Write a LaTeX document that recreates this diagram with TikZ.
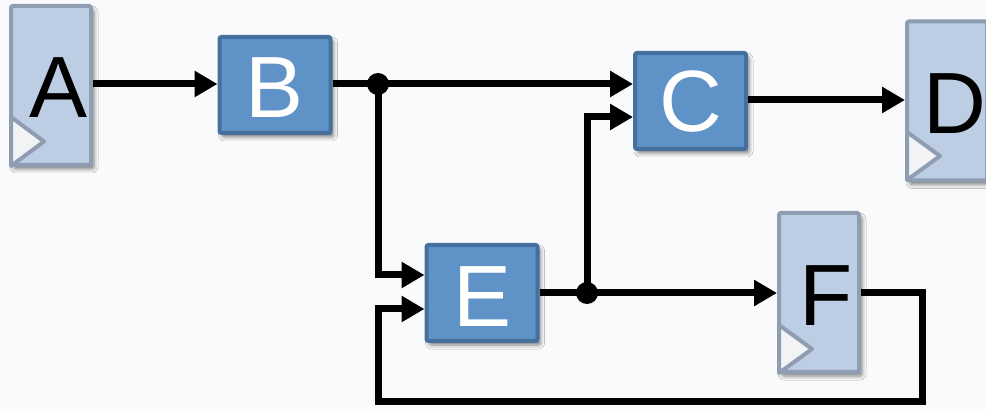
\documentclass[tikz,border=0pt]{standalone}
\usepackage{fontspec}
\setmainfont{Liberation Sans}
\usetikzlibrary{arrows.meta,shadows.blur}
\definecolor{bg}{HTML}{F9FAFC}
\definecolor{regfill}{HTML}{BDCDE3}
\definecolor{regline}{HTML}{8F9DB3}
\definecolor{blkfill}{HTML}{5F93C7}
\definecolor{blkline}{HTML}{45709E}
\definecolor{clkfill}{HTML}{F2F3F5}
\tikzset{
  regbox/.style={draw=regline, fill=regfill, line width=4pt, rounded corners=2pt,
    minimum width=80pt, minimum height=159pt, inner sep=0pt,
    blur shadow={shadow xshift=3pt, shadow yshift=-4pt, shadow blur radius=4pt, shadow opacity=50}},
  blkbox/.style={draw=blkline, fill=blkfill, line width=4pt, rounded corners=2pt,
    minimum width=111pt, minimum height=96pt, inner sep=0pt,
    blur shadow={shadow xshift=3pt, shadow yshift=-4pt, shadow blur radius=4pt, shadow opacity=50}},
  regtext/.style={font=\fontsize{87}{87}\selectfont, text=black, inner sep=0pt},
  blktext/.style={font=\fontsize{87}{87}\selectfont, text=white, inner sep=0pt},
  clk/.style={draw=regline, fill=clkfill, line width=4pt, line join=round},
  wire/.style={line width=7pt, line join=miter, -{Triangle[length=23pt,width=25pt]}},
  plainwire/.style={line width=7pt, line join=miter},
  dot/.style={circle, fill=black, minimum size=22pt, inner sep=0pt},
}
\begin{document}
\begin{tikzpicture}[x=1pt,y=-1pt]
\fill[bg] (0,0) rectangle (986,411);
\useasboundingbox (0,0) rectangle (986,411);
% registers
\node[regbox] (A) at (51,85.5) {};
\draw[clk] (11,117) -- (44,141.5) -- (11,166) -- cycle;
\node[regtext] (Alab) at (59,88) {A};
\node[regbox] (D) at (947,101) {};
\draw[clk] (907,132) -- (940,156) -- (907,180) -- cycle;
\node[regtext] (Dlab) at (955,104) {D};
\node[regbox] (F) at (819,292.5) {};
\draw[clk] (779,325) -- (812,349) -- (779,373) -- cycle;
\node[regtext] (Flab) at (826,296) {F};
% blocks
\node[blkbox] (B) at (275,85) {};
\node[blktext] (Blab) at (275,88) {B};
\node[blkbox] (C) at (690.5,101) {};
\node[blktext] (Clab) at (690.5,102) {C};
\node[blkbox] (E) at (482,293) {};
\node[blktext] (Elab) at (483,297) {E};
% junctions
\node[dot] (j1) at (378,84) {};
\node[dot] (j2) at (587,293) {};
\coordinate (cU) at (C.west |- 0,84);
\coordinate (cL) at (C.west |- 0,117);
\coordinate (eU) at (E.west |- 0,275);
\coordinate (eL) at (E.west |- 0,309);
\coordinate (k1) at (378,275);
\coordinate (k2) at (587,117);
\coordinate (f1) at (922,293);
\coordinate (f2) at (922,402);
\coordinate (f3) at (378,402);
\coordinate (f4) at (378,309);
% wires
\draw[wire] (A.east |- 0,84) -- (B.west |- 0,84);
\draw[plainwire] (B.east |- 0,84) -- (j1.center);
\draw[wire] (j1.center) -- (cU);
\draw[wire] (j1.center) -- (k1) -- (eU);
\draw[wire] (C.east |- 0,100) -- (D.west |- 0,100);
\draw[plainwire] (E.east |- 0,293) -- (j2.center);
\draw[wire] (j2.center) -- (F.west |- 0,293);
\draw[wire] (j2.center) -- (k2) -- (cL);
\draw[wire] (F.east |- 0,293) -- (f1) -- (f2) -- (f3) -- (f4) -- (eL);
\end{tikzpicture}
\end{document}
